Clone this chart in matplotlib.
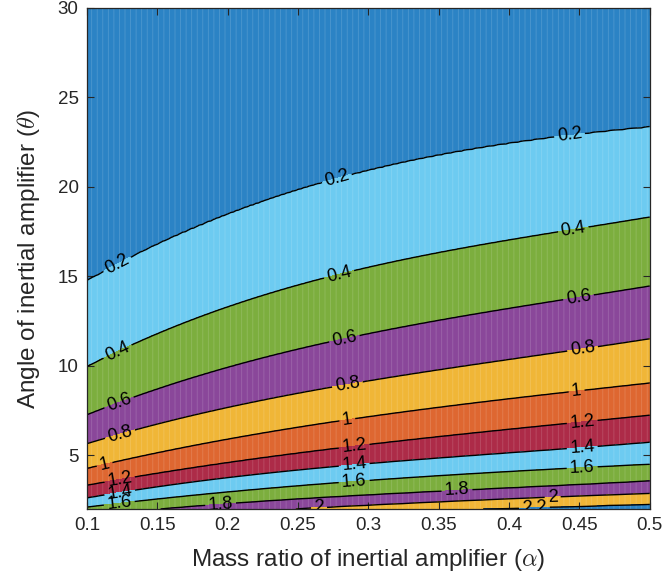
import numpy as np
import matplotlib
matplotlib.use("Agg")
import matplotlib.pyplot as plt

plt.rcParams['font.family'] = ['Liberation Sans', 'DejaVu Sans']
plt.rcParams['mathtext.fontset'] = 'cm'
plt.rcParams['hatch.color'] = (1, 1, 1, 0.16)
plt.rcParams['hatch.linewidth'] = 0.6

# mass ratio nodes where the contour heights were read
alpha_nodes = [0.1, 0.15, 0.2, 0.25, 0.3, 0.35, 0.4, 0.45, 0.5]

# angle (deg) at which each contour level crosses the alpha nodes
theta_02 = [14.7, 16.9, 18.4, 19.8, 20.9, 21.8, 22.45, 22.9, 23.35]
theta_04 = [9.9, 11.9, 13.3, 14.4, 15.5, 16.4, 17.0, 17.7, 18.3]
theta_06 = [7.24, 8.75, 9.9, 10.9, 11.8, 12.55, 13.2, 13.85, 14.45]
theta_08 = [5.65, 6.75, 7.65, 8.5, 9.15, 9.75, 10.35, 10.95, 11.5]
theta_10 = [4.26, 5.15, 5.9, 6.55, 7.15, 7.7, 8.15, 8.6, 9.04]
theta_12 = [3.32, 4.0, 4.6, 5.1, 5.6, 6.05, 6.45, 6.85, 7.24]
theta_14 = [2.6, 3.25, 3.8, 4.15, 4.5, 4.85, 5.15, 5.45, 5.71]
theta_16 = [2.11, 2.55, 2.95, 3.3, 3.6, 3.85, 4.1, 4.3, 4.5]
theta_18 = [1.6, 2.0, 2.3, 2.55, 2.78, 2.98, 3.18, 3.38, 3.56]
theta_20 = [1.3, 1.6, 1.8, 1.97, 2.2, 2.4, 2.58, 2.73, 2.86]
theta_22 = [1.0, 1.3, 1.5, 1.65, 1.8, 1.92, 2.05, 2.17, 2.26]

levels = [0.2, 0.4, 0.6, 0.8, 1.0, 1.2, 1.4, 1.6, 1.8, 2.0, 2.2]
band_colors = ['#2b83c5', '#6dcbf1', '#7cae3e', '#8a479a', '#f0b637',
               '#de6731', '#ad2b48', '#6dcbf1', '#7cae3e', '#8a479a',
               '#f0b637', '#2b83c5']

crossings = np.array([theta_02, theta_04, theta_06, theta_08, theta_10, theta_12,
                      theta_14, theta_16, theta_18, theta_20, theta_22])

# build the field on a fine grid from the read crossings
alpha = np.linspace(0.1, 0.5, 201)
theta = np.linspace(2, 30, 281)
Z = np.zeros((len(theta), len(alpha)))
for j, a in enumerate(alpha):
    th = [np.polyval(np.polyfit(alpha_nodes, row, 3), a) for row in crossings]
    th = [45.0] + th + [0.0]
    lv = [0.0] + levels + [2.6]
    Z[:, j] = np.interp(theta, th[::-1], lv[::-1])

fig = plt.figure(figsize=(6.63, 5.83), dpi=100)
ax = fig.add_axes([0.1312, 0.1269, 0.8488, 0.8594])

cf = ax.contourf(alpha, theta, Z, levels=[0.0] + levels + [2.6],
                 colors=band_colors, hatches=['|||'])
cs = ax.contour(alpha, theta, Z, levels=levels, colors='k', linewidths=1.0)

label_pos = [(0.123, 15.4), (0.278, 20.3), (0.443, 22.9),
             (0.123, 10.6), (0.28, 14.9), (0.445, 17.9),
             (0.123, 7.9), (0.283, 11.5), (0.449, 14.0),
             (0.123, 6.3), (0.285, 9.0), (0.452, 11.1),
             (0.112, 4.7), (0.285, 7.0), (0.448, 8.6),
             (0.123, 3.8), (0.29, 5.45), (0.452, 6.85),
             (0.123, 3.05), (0.29, 4.4), (0.452, 5.45),
             (0.123, 2.3), (0.29, 3.45), (0.452, 4.3),
             (0.195, 2.25), (0.363, 3.05),
             (0.265, 2.0), (0.431, 2.68),
             (0.418, 2.1)]
ax.clabel(cs, fmt=lambda v: f"{v:g}", fontsize=13, inline=True,
          inline_spacing=3, manual=label_pos)

ax.set_xlim(0.1, 0.5)
ax.set_ylim(2, 30)
ax.set_xticks([0.1, 0.15, 0.2, 0.25, 0.3, 0.35, 0.4, 0.45, 0.5])
ax.set_xticklabels(['0.1', '0.15', '0.2', '0.25', '0.3', '0.35', '0.4', '0.45', '0.5'])
ax.set_yticks([5, 10, 15, 20, 25, 30])
ax.tick_params(direction='in', length=5, width=0.8, colors='#262626',
               labelsize=13.5, top=True, right=True, pad=6)
for s in ax.spines.values():
    s.set_color('#262626')
    s.set_linewidth(0.9)

ax.set_xlabel(r'Mass ratio of inertial amplifier ($\alpha$)', fontsize=17.5,
              color='#262626', labelpad=9)
ax.set_ylabel(r'Angle of inertial amplifier ($\theta$)', fontsize=17.5,
              color='#262626', labelpad=11)

fig.savefig('out.png', dpi=100)
